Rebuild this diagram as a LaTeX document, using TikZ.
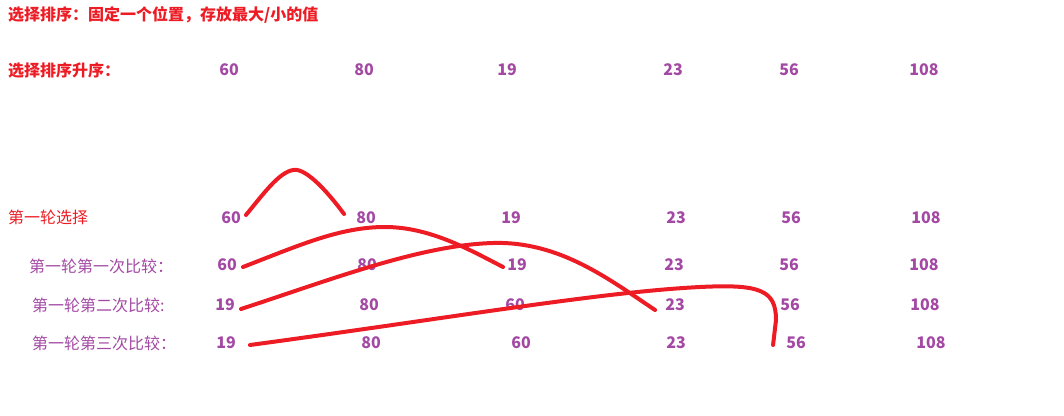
\documentclass[tikz,border=0pt]{standalone}
\usepackage{fontspec}
\setmainfont{Noto Sans CJK SC}
\definecolor{paintred}{HTML}{ED1C24}
\definecolor{paintpurple}{HTML}{A349A4}

\begin{document}
\begin{tikzpicture}[x=1pt,y=-1pt,
	num/.style={text=paintpurple,font=\bfseries\fontsize{16}{19}\selectfont,inner sep=0pt},
	lbl/.style={anchor=west,inner sep=0pt,font=\fontsize{16}{19}\selectfont},
	stroke/.style={draw=paintred,line width=4pt,line cap=round}]
	    \useasboundingbox (0,0) rectangle (1064,415);
	    
	    \node[lbl,text=paintred,font=\bfseries\fontsize{16}{19}\selectfont] (title) at (8,15) {选择排序：固定一个位置，存放最大/小的值};
	    \node[lbl,text=paintred,font=\bfseries\fontsize{16}{19}\selectfont] (asc) at (8,70) {选择排序升序：};
	    \node[lbl,text=paintred] (round) at (8,217) {第一轮选择};
	    \node[lbl,text=paintpurple] (cmp1) at (29,266) {第一轮第一次比较：};
	    \node[lbl,text=paintpurple] (cmp2) at (32,305) {第一轮第二次比较:};
	    \node[lbl,text=paintpurple] (cmp3) at (32,343) {第一轮第三次比较：};
	    
	    \foreach \x/\v [count=\j] in {229/60,364/80,507/19,673/23,789/56,924/108}
		\node[num] (a\j) at (\x,70) {\v};
	    \foreach \x/\v [count=\j] in {231/60,366/80,511/19,676/23,791/56,926/108}
		\node[num] (b\j) at (\x,218) {\v};
	    \foreach \x/\v [count=\j] in {227/60,367/80,517/19,674/23,789/56,924/108}
		\node[num] (c\j) at (\x,265) {\v};
	    \foreach \x/\v [count=\j] in {225/19,369/80,515/60,675/23,790/56,925/108}
		\node[num] (d\j) at (\x,305) {\v};
	    \foreach \x/\v [count=\j] in {226/19,371/80,521/60,676/23,796/56,931/108}
		\node[num] (e\j) at (\x,343) {\v};
		
	    \draw[stroke] ([xshift=5pt,yshift=3pt]b1.east) .. controls (265,192) and (282,168) .. (297,170) .. controls (310,172) and (330,195) .. ([xshift=-12pt,yshift=4pt]b2.west);
	    \draw[stroke] ([xshift=6pt,yshift=-2pt]c1.east) .. controls (300,245) and (340,227) .. (385,227) .. controls (430,227) and (470,250) .. ([xshift=-4pt,yshift=-2pt]c3.west);
	    \draw[stroke] ([xshift=6pt,yshift=-4pt]d1.east) .. controls (330,280) and (420,245) .. (493,243) .. controls (560,241) and (610,280) .. ([xshift=-10pt,yshift=-5pt]d4.west);
	    \draw[stroke] ([xshift=14pt,yshift=-2pt]e1.east) .. controls (450,318) and (600,292) .. (700,287) .. controls (760,284) and (776,290) .. (776,320) -- ([xshift=-13pt,yshift=-2pt]e5.west);
	\end{tikzpicture}
\end{document}
